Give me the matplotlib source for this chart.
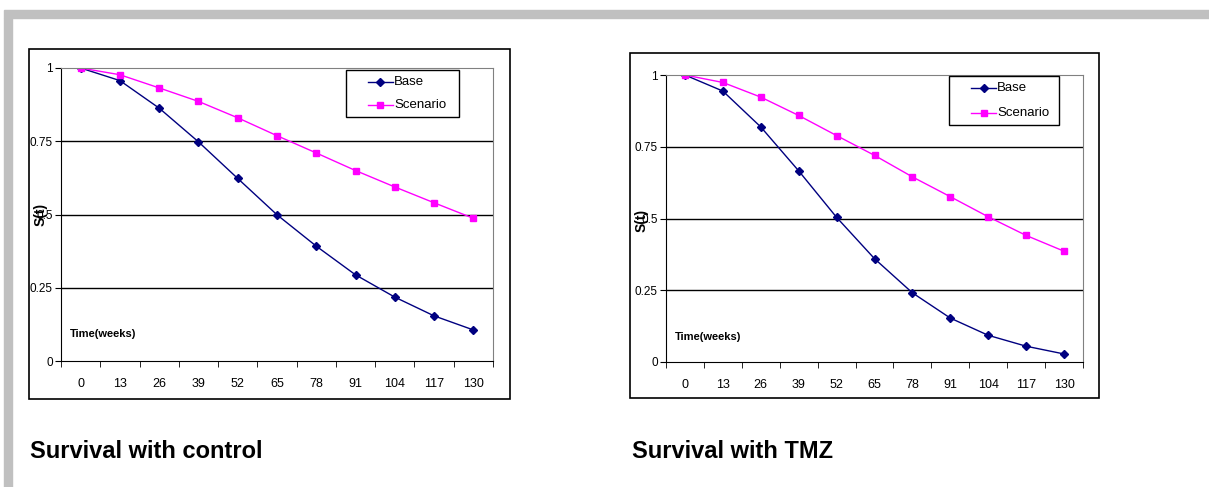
import matplotlib
matplotlib.use("Agg")
from matplotlib import pyplot as plt
from matplotlib.patches import Rectangle
from matplotlib.lines import Line2D

plt.rcParams['font.family'] = ['Liberation Sans', 'DejaVu Sans']

weeks = ["0", "13", "26", "39", "52", "65", "78", "91", "104", "117", "130"]
y_ticks = [0, 0.25, 0.5, 0.75, 1]
y_tick_labels = ["0", "0.25", "0.5", "0.75", "1"]

control_base = [1.0, 0.957, 0.863, 0.748, 0.623, 0.499, 0.392, 0.294, 0.218, 0.154, 0.106]
control_scenario = [1.0, 0.977, 0.932, 0.886, 0.830, 0.769, 0.710, 0.650, 0.594, 0.540, 0.487]
tmz_base = [1.0, 0.944, 0.819, 0.666, 0.504, 0.360, 0.241, 0.153, 0.093, 0.055, 0.028]
tmz_scenario = [1.0, 0.974, 0.923, 0.859, 0.789, 0.720, 0.645, 0.576, 0.506, 0.441, 0.386]

series_names = ["Base", "Scenario"]
titles = ["Survival with control", "Survival with TMZ"]

W, H = 1209, 487
fig = plt.figure(figsize=(W / 100, H / 100), dpi=100)


def fx(x):
    return x / W


def fy(y):
    return 1 - y / H


def frect(x0, y0, x1, y1):
    return [fx(x0), fy(y1), fx(x1) - fx(x0), fy(y0) - fy(y1)]


# grey page frame
fig.patches.append(Rectangle((fx(4), fy(18)), fx(1209) - fx(4), fy(10) - fy(18),
                             transform=fig.transFigure, color="#c0c0c0", zorder=0))
fig.patches.append(Rectangle((fx(4), 0), fx(12) - fx(4), fy(18),
                             transform=fig.transFigure, color="#c0c0c0", zorder=0))

panels = [
    dict(box=(29, 49, 510, 399), plot=(61, 68, 493, 361), base=control_base,
         scen=control_scenario, leg=(346, 70, 459, 117), ylab=(41, 214), xlab=(70, 334),
         title=(30, 451)),
    dict(box=(630, 53, 1099, 398), plot=(666, 75, 1083, 362), base=tmz_base,
         scen=tmz_scenario, leg=(949, 76, 1059, 125), ylab=(642, 220), xlab=(675, 337),
         title=(632, 451)),
]

xs = list(range(len(weeks)))
styles = [dict(color="#000080", marker="D", markersize=4.5),
          dict(color="#ff00ff", marker="s", markersize=5)]

for p, title in zip(panels, titles):
    bx0, by0, bx1, by1 = p["box"]
    fig.patches.append(Rectangle((fx(bx0), fy(by1)), fx(bx1) - fx(bx0), fy(by0) - fy(by1),
                                 transform=fig.transFigure, facecolor="white",
                                 edgecolor="black", linewidth=1.2, zorder=1))

    ax = fig.add_axes(frect(*p["plot"]))
    ax.set_zorder(3)
    ax.set_facecolor("white")
    for vals, st in zip([p["base"], p["scen"]], styles):
        ax.plot(xs, vals, linewidth=1, **st)
    ax.set_xlim(-0.5, len(weeks) - 0.5)
    ax.set_ylim(0, 1)
    ax.set_yticks(y_ticks)
    ax.set_yticklabels(y_tick_labels)
    for yv in [0.25, 0.5, 0.75]:
        ax.axhline(yv, color="black", linewidth=1, zorder=0)
    ax.set_xticks(xs)
    ax.set_xticklabels(weeks)
    ax.set_xticks([i - 0.5 for i in range(len(weeks) + 1)], minor=True)
    ax.tick_params(axis="x", which="major", length=0, pad=12, labelsize=9)
    ax.tick_params(axis="x", which="minor", length=4, direction="out", color="black")
    ax.tick_params(axis="y", length=4, direction="out", labelsize=8.5, pad=2)
    ax.spines["top"].set_color("#808080")
    ax.spines["right"].set_color("#808080")
    ax.spines["left"].set_color("black")
    ax.spines["bottom"].set_color("black")

    # legend box drawn by hand to match the spreadsheet look
    lx0, ly0, lx1, ly1 = p["leg"]
    fig.patches.append(Rectangle((fx(lx0), fy(ly1)), fx(lx1) - fx(lx0), fy(ly0) - fy(ly1),
                                 transform=fig.transFigure, facecolor="white",
                                 edgecolor="black", linewidth=1, zorder=6))
    row_h = (ly1 - ly0) / 2
    for k, (name, st) in enumerate(zip(series_names, styles)):
        yy = ly0 + row_h * (k + 0.5)
        hx0, hx1 = lx0 + 22, lx0 + 47
        fig.lines.append(Line2D([fx(hx0), fx(hx1)], [fy(yy), fy(yy)], transform=fig.transFigure,
                                linewidth=1, zorder=7, color=st["color"]))
        fig.lines.append(Line2D([fx((hx0 + hx1) / 2)], [fy(yy)], transform=fig.transFigure,
                                linestyle="none", zorder=7, **st))
        fig.text(fx(hx1 + 1), fy(yy), name, fontsize=9.5, ha="left", va="center", zorder=8)

    fig.text(fx(p["ylab"][0]), fy(p["ylab"][1]), "S(t)", rotation=90, fontsize=10,
             fontweight="bold", ha="center", va="center", zorder=5)
    fig.text(fx(p["xlab"][0]), fy(p["xlab"][1]), "Time(weeks)", fontsize=8,
             fontweight="bold", ha="left", va="center", zorder=5)
    fig.text(fx(p["title"][0]), fy(p["title"][1]), title, fontsize=17,
             fontweight="bold", ha="left", va="center")

fig.savefig("out.png", dpi=100)
